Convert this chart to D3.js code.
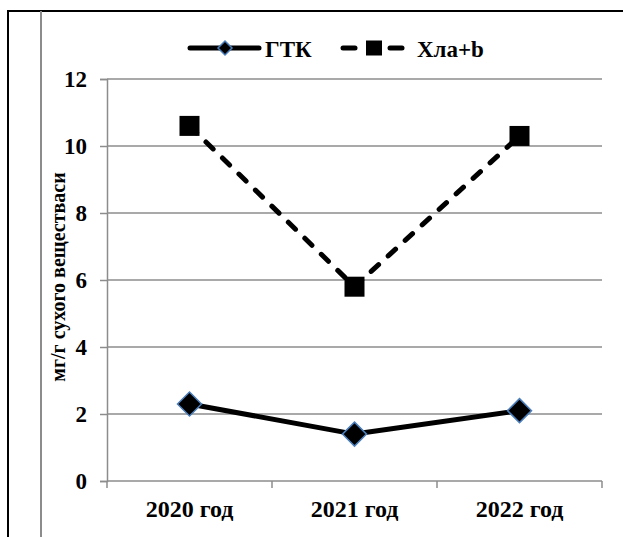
<!DOCTYPE html>
<html>
<head>
<meta charset="utf-8">
<script src="https://cdn.jsdelivr.net/npm/d3@7"></script>
<style>
  html, body { margin: 0; padding: 0; background: #fff; }
  svg { display: block; }
</style>
</head>
<body>
<svg id="chart" width="623" height="537"></svg>
<script>
// Years on the x axis
const categories = ["2020 год", "2021 год", "2022 год"];
// Hydrothermal coefficient
const gtkValues = [2.3, 1.4, 2.1];
// Chlorophyll a+b, mg/g dry matter
const chlValues = [10.6, 5.8, 10.3];
const yTicks = [0, 2, 4, 6, 8, 10, 12];
const seriesNames = ["ГТК", "Хла+b"];
const yTitle = "мг/г сухого веществаси";

const FONT = '"Liberation Serif", "Times New Roman", serif';
const svg = d3.select("#chart");
const W = 623, H = 537;

const bold = sel => sel.style("font-family", FONT).style("font-weight", "bold").attr("fill", "#000");

// outer frame
svg.append("path")
  .attr("d", `M8,${H} V11 H${W}`)
  .attr("fill", "none").attr("stroke", "#000").attr("stroke-width", 2);
svg.append("line")
  .attr("x1", 41).attr("x2", 41).attr("y1", 11).attr("y2", H)
  .attr("stroke", "#8c8c8c").attr("stroke-width", 2);

const plot = { left: 107, right: 602, top: 79, bottom: 481 };

const x = d3.scaleBand().domain(categories).range([plot.left, plot.right]).padding(0);
const y = d3.scaleLinear().domain([0, 12]).range([plot.bottom, plot.top]);
const xc = d => x(d) + x.bandwidth() / 2;

// gridlines
svg.append("g").selectAll("line").data(yTicks.filter(t => t > 0)).join("line")
  .attr("x1", plot.left).attr("x2", plot.right)
  .attr("y1", d => y(d)).attr("y2", d => y(d))
  .attr("stroke", "#8c8c8c").attr("stroke-width", 1.5);

// y axis
const yAxis = svg.append("g").attr("transform", `translate(${plot.left},0)`)
  .call(d3.axisLeft(y).tickValues(yTicks).tickSize(7).tickPadding(13).tickFormat(d3.format("d")));
yAxis.select(".domain").attr("stroke", "#8c8c8c").attr("stroke-width", 1.5);
yAxis.selectAll(".tick line").attr("stroke", "#8c8c8c").attr("stroke-width", 1.5);
yAxis.selectAll(".tick text").attr("font-size", 23).call(bold);

// x axis
const xAxis = svg.append("g").attr("transform", `translate(0,${plot.bottom})`)
  .call(d3.axisBottom(x).tickSize(0).tickPadding(0));
xAxis.select(".domain").remove();
xAxis.selectAll(".tick text").attr("font-size", 24).attr("dy", null).attr("y", 36).call(bold);
svg.append("line")
  .attr("x1", plot.left).attr("x2", plot.right)
  .attr("y1", plot.bottom).attr("y2", plot.bottom)
  .attr("stroke", "#8c8c8c").attr("stroke-width", 1.5);
const bounds = categories.map(c => x(c)).concat([plot.right]);
svg.append("g").selectAll("line").data(bounds).join("line")
  .attr("x1", d => d).attr("x2", d => d)
  .attr("y1", plot.bottom).attr("y2", plot.bottom + 7)
  .attr("stroke", "#8c8c8c").attr("stroke-width", 1.5);

// y title
svg.append("text")
  .attr("transform", "translate(65,277) rotate(-90)")
  .attr("text-anchor", "middle").attr("font-size", 20)
  .call(bold)
  .text(yTitle);

const line = d3.line().x((d, i) => xc(categories[i])).y(d => y(d));

// Хла+b dashed series
svg.append("path").datum(chlValues)
  .attr("d", line).attr("fill", "none").attr("stroke", "#000")
  .attr("stroke-width", 5).attr("stroke-linecap", "round")
  .attr("stroke-dasharray", "10,13");
svg.append("g").selectAll("rect").data(chlValues).join("rect")
  .attr("x", (d, i) => xc(categories[i]) - 10).attr("y", d => y(d) - 10)
  .attr("width", 20).attr("height", 20).attr("fill", "#000");

// ГТК solid series
svg.append("path").datum(gtkValues)
  .attr("d", line).attr("fill", "none").attr("stroke", "#000")
  .attr("stroke-width", 5).attr("stroke-linejoin", "round");
const diamond = (cx, cy, r) => `M${cx},${cy - r}L${cx + r},${cy}L${cx},${cy + r}L${cx - r},${cy}Z`;
svg.append("g").selectAll("path").data(gtkValues).join("path")
  .attr("d", (d, i) => diamond(xc(categories[i]), y(d), 12))
  .attr("fill", "#000").attr("stroke", "#4a7ebb").attr("stroke-width", 1.5);

// legend
const ly = 48;
const leg = svg.append("g");
leg.append("line").attr("x1", 190).attr("x2", 259).attr("y1", ly).attr("y2", ly)
  .attr("stroke", "#000").attr("stroke-width", 5).attr("stroke-linecap", "round");
leg.append("path").attr("d", diamond(225, ly, 7))
  .attr("fill", "#000").attr("stroke", "#4a7ebb").attr("stroke-width", 1.5);
leg.append("text").attr("x", 265).attr("y", 57).attr("font-size", 23).call(bold).text(seriesNames[0]);

[[343, 355], [390, 402]].forEach(([a, b]) => {
  leg.append("line").attr("x1", a).attr("x2", b).attr("y1", ly).attr("y2", ly)
    .attr("stroke", "#000").attr("stroke-width", 5).attr("stroke-linecap", "round");
});
leg.append("rect").attr("x", 366).attr("y", ly - 7.5).attr("width", 16).attr("height", 15).attr("fill", "#000");
leg.append("text").attr("x", 417).attr("y", 57).attr("font-size", 23).call(bold).text(seriesNames[1]);
</script>
</body>
</html>
